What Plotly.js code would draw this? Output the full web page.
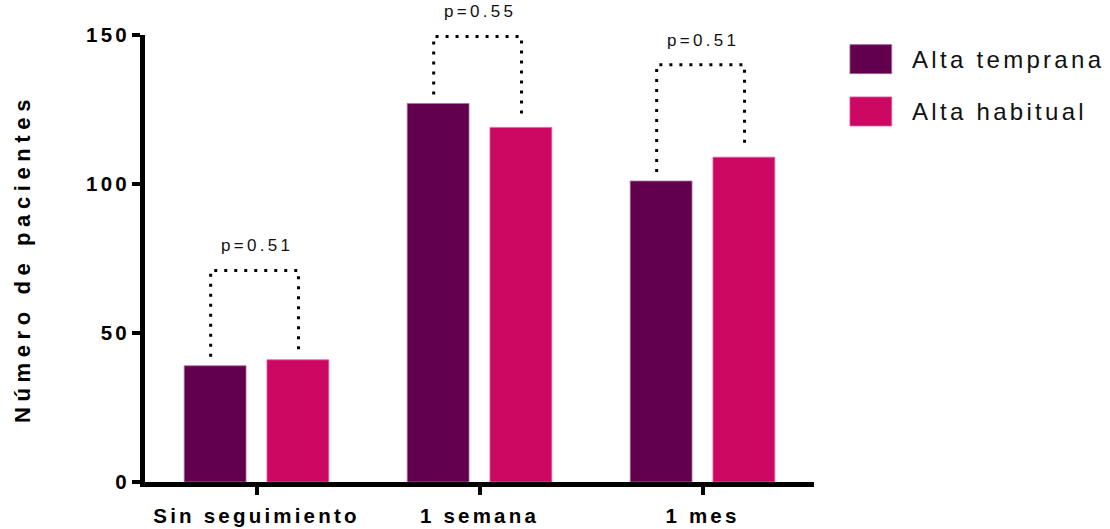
<!DOCTYPE html>
<html><head><meta charset="utf-8">
<script src="https://cdn.plot.ly/plotly-3.0.1.min.js"></script>
<style>
body{margin:0;background:#fff}
#chart{width:1110px;height:529px}
.xtick text,.ytick text{letter-spacing:3.2px}
.ytitle{letter-spacing:5.6px}
.annotation-text{letter-spacing:3.3px}
</style></head><body><div id="chart"></div>
<script>
// ---- data ----
const categories = ['Sin seguimiento', '1 semana', '1 mes'];
const seriesNames = ['Alta temprana', 'Alta habitual'];
const altaTemprana = [39, 127, 101];
const altaHabitual = [41, 119, 109];
const pLabels = ['p=0.51', 'p=0.55', 'p=0.51'];
const bracketTop = [71, 149.5, 140];
const yTickVals = [0, 50, 100, 150];
const yTitle = 'Número de pacientes';

// ---- style ----
const colors = ['#62004e', '#cd0862'];
const edge = ['#a8709c', '#e060a0'];
const FONT = 'Liberation Sans, Arial, sans-serif';
const BARGAP = 0.258, BARGROUPGAP = 0.253;
const xIdx = categories.map((c, i) => i);

const traces = [
  {type: 'bar', name: seriesNames[0], x: xIdx, y: altaTemprana,
   marker: {color: colors[0], line: {color: edge[0], width: 0.8}}, showlegend: false, hoverinfo: 'x+y'},
  {type: 'bar', name: seriesNames[1], x: xIdx, y: altaHabitual,
   marker: {color: colors[1], line: {color: edge[1], width: 0.8}}, showlegend: false, hoverinfo: 'x+y'}
];

// significance brackets, derived from bar layout
const off = (1 - BARGAP) / 4;
xIdx.forEach((i) => {
  const xl = i - off - 0.02, xr = i + off + 0.003;
  traces.push({
    type: 'scatter', mode: 'lines', showlegend: false, hoverinfo: 'skip', cliponaxis: false,
    x: [xl, xl, xr, xr],
    y: [altaTemprana[i] + 3, bracketTop[i], bracketTop[i], altaHabitual[i] + 3],
    line: {color: '#000', width: 3, dash: '3px,7px'}
  });
});

const annotations = xIdx.map((i) => ({
  x: i, y: bracketTop[i], xref: 'x', yref: 'y', text: pLabels[i], showarrow: false,
  yanchor: 'bottom', yshift: 13, font: {family: FONT, size: 17, color: '#111'}
}));

// custom legend (large swatches)
const legY = [0.946, 0.829];
const shapes = [];
seriesNames.forEach((n, k) => {
  shapes.push({type: 'rect', xref: 'paper', yref: 'paper', x0: 1.0537, x1: 1.1162,
    y0: legY[k] - 0.0325, y1: legY[k] + 0.0325, fillcolor: colors[k], line: {color: edge[k], width: 0.8}});
  annotations.push({xref: 'paper', yref: 'paper', x: 1.143, y: legY[k], xanchor: 'left', yanchor: 'middle',
    text: n, showarrow: false, font: {family: FONT, size: 24, color: '#111'}});
});

const layout = {
  width: 1110, height: 529,
  margin: {l: 145, r: 296, t: 35, b: 47},
  paper_bgcolor: '#fff', plot_bgcolor: '#fff',
  barmode: 'group', bargap: BARGAP, bargroupgap: BARGROUPGAP,
  showlegend: false,
  font: {family: FONT, color: '#000'},
  xaxis: {type: 'linear', range: [-0.5, 2.5], tickvals: xIdx, ticktext: categories,
    showgrid: false, zeroline: false, showline: true, linewidth: 5, linecolor: '#000',
    ticks: 'outside', ticklen: 8, tickwidth: 4, tickcolor: '#000', ticklabelstandoff: 3,
    tickfont: {family: FONT, size: 20.5, weight: 'bold', color: '#000'}},
  yaxis: {range: [0, 150], tickvals: yTickVals, showgrid: false, zeroline: false,
    showline: true, linewidth: 5, linecolor: '#000',
    ticks: 'outside', ticklen: 8, tickwidth: 4, tickcolor: '#000', ticklabelstandoff: -2,
    tickfont: {family: FONT, size: 20.5, weight: 'bold', color: '#000'},
    title: {text: yTitle, standoff: 51, font: {family: FONT, size: 22, weight: 'bold', color: '#000'}}},
  annotations: annotations,
  shapes: shapes
};

Plotly.newPlot('chart', traces, layout, {displayModeBar: false, staticPlot: true});
</script></body></html>
